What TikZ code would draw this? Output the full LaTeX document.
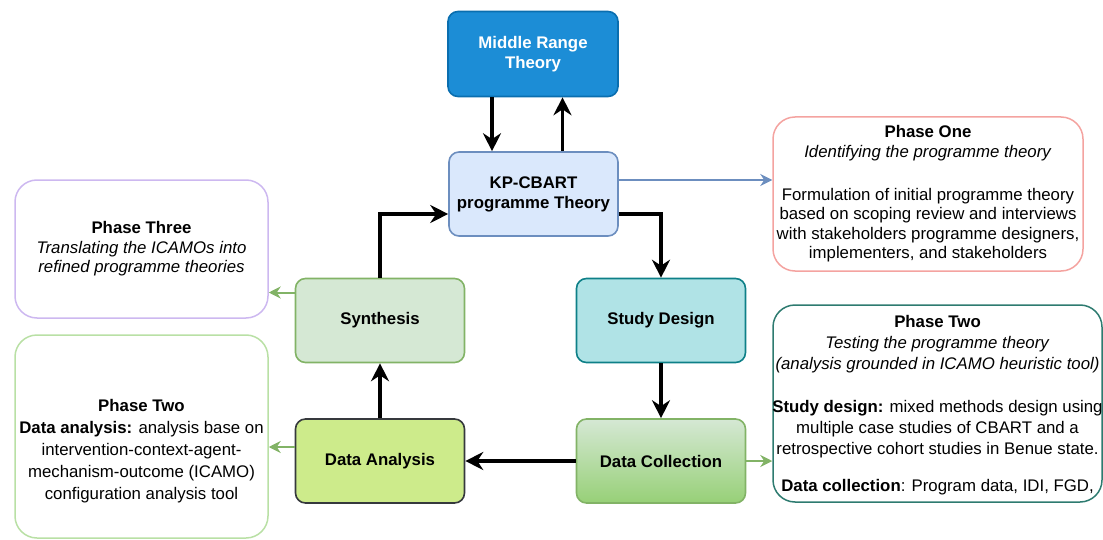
\documentclass[tikz,border=0pt]{standalone}
\usepackage{fontspec}
\setmainfont{Liberation Sans}
\usetikzlibrary{arrows.meta}

\definecolor{mrtfill}{HTML}{1C8DD6}
\definecolor{mrtedge}{HTML}{0A6EAF}
\definecolor{kpfill}{HTML}{DAE8FC}
\definecolor{kpedge}{HTML}{6C8EBF}
\definecolor{studyfill}{HTML}{B0E3E6}
\definecolor{studyedge}{HTML}{0E8088}
\definecolor{greenfill}{HTML}{D5E8D4}
\definecolor{greenedge}{HTML}{82B366}
\definecolor{collectbot}{HTML}{97D077}
\definecolor{analysisfill}{HTML}{CDEB8B}
\definecolor{analysisedge}{HTML}{36393D}
\definecolor{oneedge}{HTML}{F4A3A0}
\definecolor{threeedge}{HTML}{CDB8F0}
\definecolor{twoledge}{HTML}{B9E0A5}
\definecolor{tworedge}{HTML}{2E7B70}

\newcommand{\spill}[1]{\makebox[0pt]{#1}}

\begin{document}
\begin{tikzpicture}[x=0.5pt,y=-0.5pt,
  stage/.style={draw,rounded corners=5pt,minimum width=84.5pt,minimum height=42pt,align=center,
    font=\bfseries\fontsize{8.4}{10}\selectfont,line width=0.8pt},
  phase/.style={draw,rounded corners=11pt,align=center,inner sep=0pt,
    font=\fontsize{8.4}{9.8}\selectfont,line width=0.75pt},
  flow/.style={-{Stealth[length=9pt,width=9pt,inset=3pt]},line width=1.8pt},
  side/.style={-{Stealth[length=6pt,width=6pt,inset=2pt]},line width=1pt,color=greenedge},
  info/.style={-{Stealth[length=6pt,width=6pt,inset=2pt]},line width=0.8pt,color=kpedge}]
\useasboundingbox (0,0) rectangle (1103,540);
\clip (0,0) rectangle (1103,540);

% cycle of stages
\node[stage,fill=mrtfill,draw=mrtedge,text=white,minimum width=85pt,minimum height=42.5pt] (mrt) at (533,54) {Middle Range\\Theory};
\node[stage,fill=kpfill,draw=kpedge] (kp) at (533.5,194) {KP-CBART\\programme Theory};
\node[stage,fill=studyfill,draw=studyedge] (study) at (661,320.5) {Study Design};
\node[stage,top color=greenfill,bottom color=collectbot,draw=greenedge] (collect) at (661,461) {Data Collection};
\node[stage,fill=analysisfill,draw=analysisedge] (analysis) at (380,461) {Data Analysis};
\node[stage,fill=greenfill,draw=greenedge] (synth) at (380,320.5) {Synthesis};

% phase notes
\node[phase,draw=oneedge,minimum width=155pt,minimum height=77pt] (phone) at (928,194)
  {\textbf{Phase One}\\\textit{Identifying the programme theory}\\[11.5pt]
   Formulation of initial programme theory\\based on scoping review and interviews\\
   with stakeholders programme designers,\\implementers, and stakeholders};
\node[phase,draw=threeedge,minimum width=126.5pt,minimum height=69pt] (phthree) at (141.5,249)
  {\textbf{Phase Three}\\\textit{Translating the ICAMOs into}\\\textit{refined programme theories}};
\node[phase,draw=twoledge,minimum width=126.5pt,minimum height=101.5pt,
  font=\fontsize{8.4}{11}\selectfont] (phtwoL) at (141.5,436.5)
  {\mbox{}\\[10pt]\textbf{Phase Two}\\\textbf{Data analysis:} analysis base on\\intervention-context-agent-\\
   mechanism-outcome (ICAMO)\\configuration analysis tool};
\node[phase,draw=tworedge,minimum width=164.5pt,minimum height=98.5pt,
  font=\fontsize{8.4}{10.5}\selectfont] (phtwoR) at (937.5,403.5)
  {\mbox{}\\[-2.5pt]\textbf{Phase Two}\\\textit{Testing the programme theory}\\
   \spill{\textit{(analysis grounded in ICAMO heuristic tool)}}\\[11pt]
   \spill{\textbf{Study design:} mixed methods design using}\\multiple case studies of CBART and a\\
   \spill{retrospective cohort studies in Benue state.}\\[8pt]
   \textbf{Data collection}: Program data, IDI, FGD,};

% main flow
\coordinate (dn) at ([xshift=-20.5pt]mrt.south);
\coordinate (up) at ([xshift=14.5pt]kp.north);
\draw[flow] (dn) -- (dn |- kp.north);
\draw[flow] (up) -- (up |- mrt.south);
\draw[flow] ([yshift=-10pt]kp.east) -| (study.north);
\draw[flow] (study) -- (collect);
\draw[flow] (collect) -- (analysis);
\draw[flow] (analysis) -- (synth);
\draw[flow] (synth.north) |- ([yshift=-10pt]kp.west);

% links to notes
\coordinate (kpout) at ([yshift=7pt]kp.east);
\coordinate (synthout) at ([yshift=14pt]synth.west);
\coordinate (analysisout) at ([yshift=7pt]analysis.west);
\draw[info] (kpout) -- (kpout -| phone.west);
\draw[side] (synthout) -- (synthout -| phthree.east);
\draw[side] (analysisout) -- (analysisout -| phtwoL.east);
\draw[side] (collect.east) -- (collect.east -| phtwoR.west);
\end{tikzpicture}
\end{document}
